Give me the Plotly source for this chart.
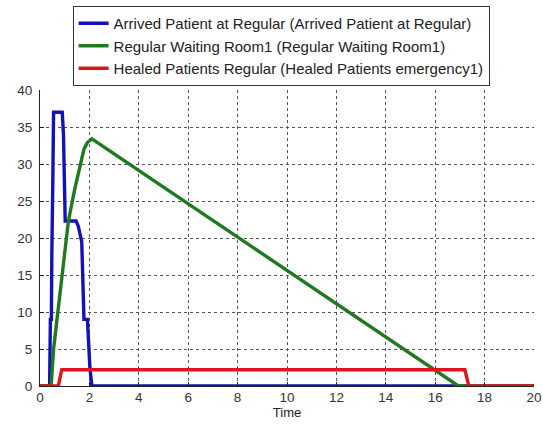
import plotly.graph_objects as go

# Arrived Patient at Regular
arrived_x = [0, 0.39, 0.42, 0.46, 0.48, 0.49, 0.52, 0.55, 0.9, 0.95, 1.02, 1.46, 1.55, 1.69, 1.78, 1.92, 2.02, 2.1, 20]
arrived_y = [0, 0, 9, 9, 18, 28, 28, 37, 37, 34, 22.3, 22.3, 21.6, 19.5, 9, 9, 2.5, 0, 0]

# Regular Waiting Room1
waiting_x = [0, 0.45, 0.55, 0.72, 0.89, 1.15, 1.4, 1.62, 1.78, 1.92, 2.1, 16.94, 20]
waiting_y = [0, 0, 5, 10, 15, 22.3, 26.5, 30, 32, 32.9, 33.4, 0, 0]

# Healed Patients Regular
healed_x = [0, 0.74, 0.88, 17.2, 17.36, 20]
healed_y = [0, 0, 2.2, 2.2, 0, 0]

names = [
    "Arrived Patient at Regular (Arrived Patient at Regular)",
    "Regular Waiting Room1 (Regular Waiting Room1)",
    "Healed Patients Regular (Healed Patients emergency1)",
]
colors = ["#1212b8", "#1f7a1f", "#e0141e"]

x_ticks = [0, 2, 4, 6, 8, 10, 12, 14, 16, 18, 20]
y_ticks = [0, 5, 10, 15, 20, 25, 30, 35, 40]

fig = go.Figure()
for xs, ys, name, c in zip([arrived_x, waiting_x, healed_x], [arrived_y, waiting_y, healed_y], names, colors):
    fig.add_trace(go.Scatter(x=xs, y=ys, mode="lines", name=name,
                             line=dict(color=c, width=3.4)))

axis_common = dict(
    showgrid=True, gridcolor="#555555", griddash="dot", gridwidth=1,
    showline=True, linecolor="#222222", linewidth=1,
    ticks="inside", ticklen=4, tickcolor="#222222",
    tickfont=dict(family="Liberation Sans, Arial, sans-serif", size=13.5, color="#333333"),
    zeroline=False, ticklabeloverflow="allow",
)

fig.update_layout(
    width=543, height=425,
    margin=dict(l=40, r=9, t=90, b=39, autoexpand=False),
    paper_bgcolor="white", plot_bgcolor="white",
    font=dict(family="Liberation Sans, Arial, sans-serif", color="#222222"),
    xaxis=dict(range=[0, 20], tickvals=x_ticks, ticklabelstandoff=-1,
               title=dict(text="Time", font=dict(size=13), standoff=3), **axis_common),
    yaxis=dict(range=[0, 40], tickvals=y_ticks, ticklabelstandoff=4, **axis_common),
    legend=dict(x=0.066, y=1.284, xanchor="left", yanchor="top",
                bordercolor="#333333", borderwidth=1, bgcolor="white",
                font=dict(size=15, color="#222222"),
                tracegroupgap=0),
    showlegend=True,
)

fig.write_html("out.html", config={"displayModeBar": False},
               post_script="document.body.style.margin='0';document.body.style.overflow='hidden';")
